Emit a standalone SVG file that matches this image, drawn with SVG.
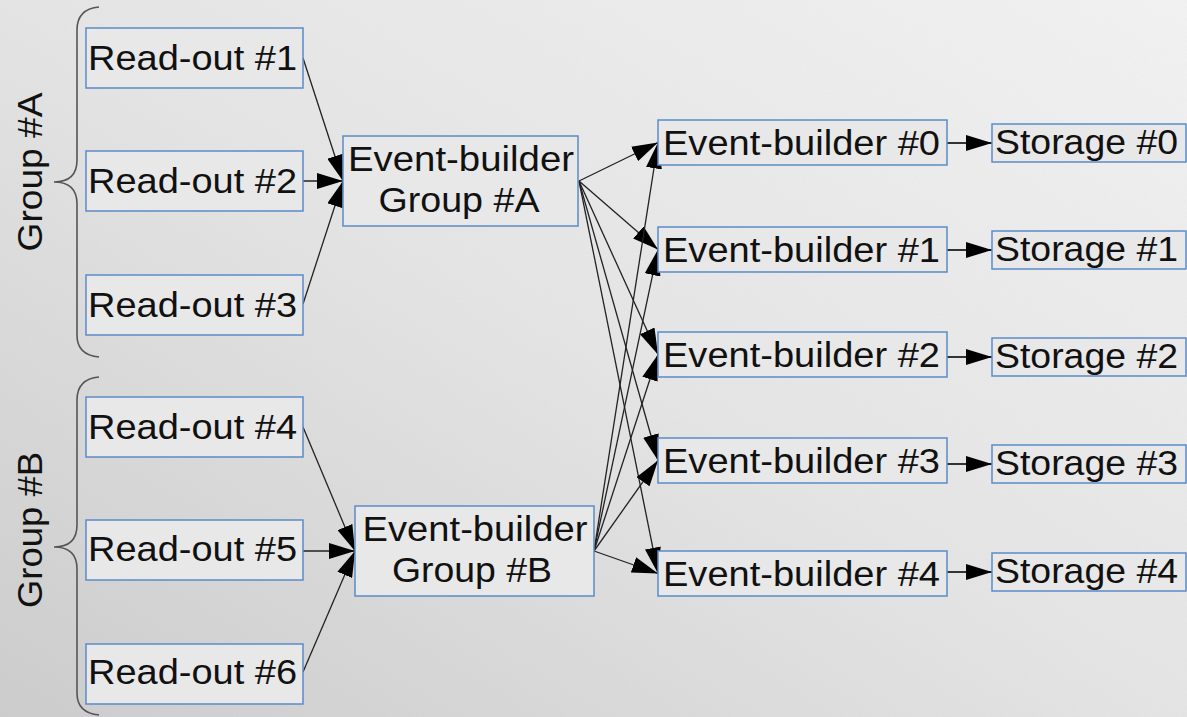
<svg xmlns="http://www.w3.org/2000/svg" width="1187" height="717" viewBox="0 0 1187 717">
  <defs>
    <linearGradient id="bg" x1="0" y1="1" x2="1" y2="0">
      <stop offset="0" stop-color="#cdcdcd"/>
      <stop offset="0.5" stop-color="#e6e6e6"/>
      <stop offset="1" stop-color="#f4f4f4"/>
    </linearGradient>
    <filter id="grain" x="0" y="0" width="100%" height="100%">
      <feTurbulence type="fractalNoise" baseFrequency="0.9" numOctaves="2" seed="3" result="n"/>
      <feColorMatrix in="n" type="matrix" values="0 0 0 0 0.5  0 0 0 0 0.5  0 0 0 0 0.5  0 0 0 0.12 0"/>
    </filter>
    <marker id="arrow" markerUnits="userSpaceOnUse" markerWidth="26" markerHeight="16" refX="26" refY="8" orient="auto">
      <path d="M0,0 L26,8 L0,16 z" fill="#000"/>
    </marker>
    <style>
      .box { fill: #e8e8e8; stroke: #5b8bc9; stroke-width: 1.5; }
      .lbl { font-family: "Liberation Sans", Arial, sans-serif; font-size: 35px; fill: #111; }
      .mid { text-anchor: middle; }
      .edge { fill: none; stroke: #222; stroke-width: 1.3; marker-end: url(#arrow); }
      .edge.thick { stroke-width: 2; stroke: #333; }
      .brace { fill: none; stroke: #555; stroke-width: 1.6; }
    </style>
  </defs>

  <!-- paper background -->
  <rect width="1187" height="717" fill="url(#bg)"/>
  <rect width="1187" height="717" filter="url(#grain)"/>

  <!-- group braces and captions -->
  <g id="group-a">
    <path class="brace" d="M99,7 Q77,9 77,30 L77,160 Q77,182 54,182 Q77,182 77,204 L77,335 Q77,355 99,357"/>
    <text class="lbl mid" transform="translate(42,172) rotate(-90)" textLength="159" lengthAdjust="spacingAndGlyphs">Group #A</text>
  </g>
  <g id="group-b">
    <path class="brace" d="M99,377 Q77,379 77,400 L77,525 Q77,547 54,547 Q77,547 77,569 L77,693 Q77,713 99,715"/>
    <text class="lbl mid" transform="translate(42,530) rotate(-90)" textLength="156" lengthAdjust="spacingAndGlyphs">Group #B</text>
  </g>

  <!-- connectors -->
  <g id="connectors">
    <line class="edge" x1="303" y1="58" x2="343" y2="181"/>
    <line class="edge" x1="303" y1="181" x2="343" y2="181"/>
    <line class="edge" x1="303" y1="304" x2="343" y2="181"/>
    <line class="edge" x1="303" y1="427" x2="355" y2="551"/>
    <line class="edge" x1="303" y1="551" x2="355" y2="551"/>
    <line class="edge" x1="303" y1="672" x2="355" y2="551"/>

    <line class="edge" x1="579" y1="181" x2="658" y2="142.5"/>
    <line class="edge" x1="579" y1="181" x2="658" y2="249.5"/>
    <line class="edge" x1="579" y1="181" x2="658" y2="354.5"/>
    <line class="edge" x1="579" y1="181" x2="658" y2="460.5"/>
    <line class="edge" x1="579" y1="181" x2="658" y2="573.5"/>

    <line class="edge" x1="594" y1="551" x2="658" y2="142.5"/>
    <line class="edge" x1="594" y1="551" x2="658" y2="249.5"/>
    <line class="edge" x1="594" y1="551" x2="658" y2="354.5"/>
    <line class="edge" x1="594" y1="551" x2="658" y2="460.5"/>
    <line class="edge" x1="594" y1="551" x2="658" y2="573.5"/>

    <line class="edge thick" x1="947" y1="143" x2="992" y2="143"/>
    <line class="edge thick" x1="947" y1="250" x2="992" y2="250"/>
    <line class="edge thick" x1="947" y1="357" x2="992" y2="357"/>
    <line class="edge thick" x1="947" y1="464" x2="992" y2="464"/>
    <line class="edge thick" x1="947" y1="572" x2="992" y2="572"/>
  </g>

  <!-- read-out nodes -->
  <g id="readout-1"><rect class="box" x="86" y="28" width="217" height="60"/><text class="lbl" x="88" y="70" textLength="209" lengthAdjust="spacingAndGlyphs">Read-out #1</text></g>
  <g id="readout-2"><rect class="box" x="86" y="151" width="217" height="60"/><text class="lbl" x="88" y="193" textLength="209" lengthAdjust="spacingAndGlyphs">Read-out #2</text></g>
  <g id="readout-3"><rect class="box" x="86" y="275" width="217" height="60"/><text class="lbl" x="88" y="317" textLength="209" lengthAdjust="spacingAndGlyphs">Read-out #3</text></g>
  <g id="readout-4"><rect class="box" x="86" y="397" width="217" height="60"/><text class="lbl" x="88" y="439" textLength="209" lengthAdjust="spacingAndGlyphs">Read-out #4</text></g>
  <g id="readout-5"><rect class="box" x="86" y="520" width="217" height="60"/><text class="lbl" x="88" y="561" textLength="209" lengthAdjust="spacingAndGlyphs">Read-out #5</text></g>
  <g id="readout-6"><rect class="box" x="86" y="644" width="217" height="60"/><text class="lbl" x="88" y="684" textLength="209" lengthAdjust="spacingAndGlyphs">Read-out #6</text></g>

  <!-- group event builders -->
  <g id="eb-group-a">
    <rect class="box" x="343" y="136" width="235" height="90"/>
    <text class="lbl mid" x="461" y="171" textLength="226" lengthAdjust="spacingAndGlyphs">Event-builder</text>
    <text class="lbl mid" x="459" y="212" textLength="161" lengthAdjust="spacingAndGlyphs">Group #A</text>
  </g>
  <g id="eb-group-b">
    <rect class="box" x="355" y="506" width="239" height="90"/>
    <text class="lbl mid" x="475" y="541" textLength="225" lengthAdjust="spacingAndGlyphs">Event-builder</text>
    <text class="lbl mid" x="472" y="582" textLength="160" lengthAdjust="spacingAndGlyphs">Group #B</text>
  </g>

  <!-- event builders -->
  <g id="eb-0"><rect class="box" x="658" y="120" width="289" height="45"/><text class="lbl" x="663" y="155" textLength="277" lengthAdjust="spacingAndGlyphs">Event-builder #0</text></g>
  <g id="eb-1"><rect class="box" x="658" y="227" width="289" height="45"/><text class="lbl" x="663" y="262" textLength="277" lengthAdjust="spacingAndGlyphs">Event-builder #1</text></g>
  <g id="eb-2"><rect class="box" x="658" y="332" width="289" height="45"/><text class="lbl" x="663" y="367" textLength="277" lengthAdjust="spacingAndGlyphs">Event-builder #2</text></g>
  <g id="eb-3"><rect class="box" x="658" y="438" width="289" height="45"/><text class="lbl" x="663" y="473" textLength="277" lengthAdjust="spacingAndGlyphs">Event-builder #3</text></g>
  <g id="eb-4"><rect class="box" x="658" y="551" width="289" height="45"/><text class="lbl" x="663" y="586" textLength="277" lengthAdjust="spacingAndGlyphs">Event-builder #4</text></g>

  <!-- storage -->
  <g id="storage-0"><rect class="box" x="992" y="124" width="194" height="38"/><text class="lbl" x="995" y="154" textLength="183" lengthAdjust="spacingAndGlyphs">Storage #0</text></g>
  <g id="storage-1"><rect class="box" x="992" y="231" width="194" height="38"/><text class="lbl" x="995" y="261" textLength="183" lengthAdjust="spacingAndGlyphs">Storage #1</text></g>
  <g id="storage-2"><rect class="box" x="992" y="338" width="194" height="38"/><text class="lbl" x="995" y="368" textLength="183" lengthAdjust="spacingAndGlyphs">Storage #2</text></g>
  <g id="storage-3"><rect class="box" x="992" y="445" width="194" height="38"/><text class="lbl" x="995" y="475" textLength="183" lengthAdjust="spacingAndGlyphs">Storage #3</text></g>
  <g id="storage-4"><rect class="box" x="992" y="553" width="194" height="38"/><text class="lbl" x="995" y="583" textLength="183" lengthAdjust="spacingAndGlyphs">Storage #4</text></g>
</svg>
